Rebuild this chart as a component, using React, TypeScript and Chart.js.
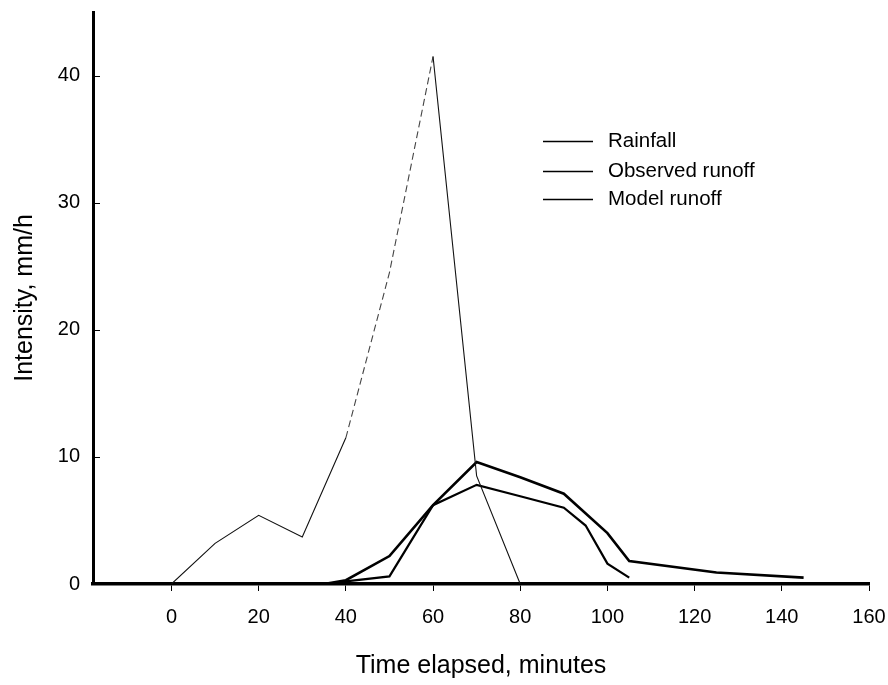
import React, { useEffect, useRef } from "react";
import { Chart, registerables } from "chart.js";

Chart.register(...registerables);

// ---- data ----
const rainfallX = [0, 10, 20, 30, 40, 45, 50, 55, 60, 70, 80];
const rainfallY = [0, 3.2, 5.4, 3.7, 11.5, 18, 24.5, 33, 41.5, 8.5, 0];

const observedX = [35, 40, 50, 60, 70, 80, 90, 100, 105, 125, 145];
const observedY = [0, 0.3, 2.2, 6.2, 9.6, 8.4, 7.1, 4.0, 1.8, 0.9, 0.5];

const modelX = [37, 40, 50, 60, 70, 80, 90, 95, 100, 105];
const modelY = [0, 0.2, 0.6, 6.2, 7.8, 6.9, 6.0, 4.6, 1.6, 0.5];

const xTicks = [0, 20, 40, 60, 80, 100, 120, 140, 160];
const yTicks = [0, 10, 20, 30, 40];

const seriesNames = ["Rainfall", "Observed runoff", "Model runoff"];
const xTitle = "Time elapsed, minutes";
const yTitle = "Intensity, mm/h";

const FONT = "'Liberation Sans', Arial, sans-serif";

const toPoints = (xs: number[], ys: number[]) => xs.map((x, i) => ({ x, y: ys[i] }));

const legendAndTicksPlugin = {
  id: "legendAndTicks",
  afterDraw(chart: any) {
    const ctx = chart.ctx as CanvasRenderingContext2D;
    const yScale = chart.scales.y;
    const area = chart.chartArea;
    ctx.save();
    // inner tick marks on the y axis
    ctx.strokeStyle = "#000";
    ctx.lineWidth = 1;
    yTicks.forEach((v) => {
      const py = Math.round(yScale.getPixelForValue(v)) + 0.5;
      ctx.beginPath();
      ctx.moveTo(area.left, py);
      ctx.lineTo(area.left + 7, py);
      ctx.stroke();
    });
    // legend
    const lx0 = area.left + 450;
    const lx1 = lx0 + 50;
    const tx = lx0 + 65;
    const rows = [area.top + 129, area.top + 159, area.top + 187];
    ctx.font = `20.5px ${FONT}`;
    ctx.textBaseline = "middle";
    ctx.textAlign = "left";
    ctx.fillStyle = "#000";
    seriesNames.forEach((name, i) => {
      ctx.lineWidth = 1.3;
      ctx.beginPath();
      ctx.moveTo(lx0, rows[i] + 0.5);
      ctx.lineTo(lx1, rows[i] + 0.5);
      ctx.stroke();
      ctx.fillText(name, tx, rows[i]);
    });
    ctx.restore();
  },
};

export default function App() {
  const canvasRef = useRef<HTMLCanvasElement | null>(null);

  useEffect(() => {
    if (!canvasRef.current) return;
    const chart = new Chart(canvasRef.current, {
      type: "line",
      data: {
        datasets: [
          {
            label: seriesNames[0],
            data: toPoints(rainfallX, rainfallY),
            borderColor: "#111",
            borderWidth: 1.1,
            pointRadius: 0,
            tension: 0,
            segment: {
              borderDash: (c: any) =>
                c.p0.parsed.x >= 40 && c.p1.parsed.x <= 60 ? [7, 4] : undefined,
              borderColor: (c: any) =>
                c.p0.parsed.x >= 40 && c.p1.parsed.x <= 60 ? "#444" : "#111",
            },
          },
          {
            label: seriesNames[1],
            data: toPoints(observedX, observedY),
            borderColor: "#000",
            borderWidth: 2.6,
            pointRadius: 0,
            tension: 0,
          },
          {
            label: seriesNames[2],
            data: toPoints(modelX, modelY),
            borderColor: "#000",
            borderWidth: 2.2,
            pointRadius: 0,
            tension: 0,
          },
        ],
      },
      options: {
        animation: false,
        responsive: true,
        maintainAspectRatio: false,
        layout: { autoPadding: false, padding: { top: 12, right: 19, left: 0, bottom: 0 } },
        plugins: {
          legend: { display: false },
          tooltip: { enabled: false },
        },
        scales: {
          x: {
            type: "linear",
            min: -18,
            max: 160,
            afterBuildTicks: (scale: any) => {
              scale.ticks = xTicks.map((v) => ({ value: v }));
            },
            afterFit: (scale: any) => {
              scale.height = 101;
              scale.paddingLeft = 0;
              scale.paddingRight = 0;
            },
            grid: {
              display: true,
              drawOnChartArea: false,
              drawTicks: true,
              tickLength: 7,
              color: "#000",
              lineWidth: 1,
            },
            border: { display: true, width: 3.5, color: "#000" },
            ticks: {
              color: "#000",
              font: { family: FONT, size: 20 },
              padding: 14,
              maxRotation: 0,
              autoSkip: false,
            },
            title: {
              display: true,
              text: xTitle,
              color: "#000",
              font: { family: FONT, size: 25 },
              padding: { top: 0, bottom: 4 },
            },
          },
          y: {
            type: "linear",
            min: 0,
            max: 45,
            afterBuildTicks: (scale: any) => {
              scale.ticks = yTicks.map((v) => ({ value: v }));
            },
            afterFit: (scale: any) => {
              scale.width = 93;
              scale.paddingTop = 0;
              scale.paddingBottom = 0;
            },
            grid: { display: false, drawTicks: false },
            border: { display: true, width: 3, color: "#000" },
            ticks: {
              color: "#000",
              font: { family: FONT, size: 20 },
              padding: 13,
            },
            title: {
              display: true,
              text: yTitle,
              color: "#000",
              font: { family: FONT, size: 25 },
              padding: { top: 10, bottom: 0 },
            },
          },
        },
      },
      plugins: [legendAndTicksPlugin],
    } as any);
    return () => chart.destroy();
  }, []);

  return (
    <div
      style={{
        position: "fixed",
        left: 0,
        top: 0,
        width: 888,
        height: 685,
        background: "#fff",
      }}
    >
      <canvas ref={canvasRef} />
    </div>
  );
}
